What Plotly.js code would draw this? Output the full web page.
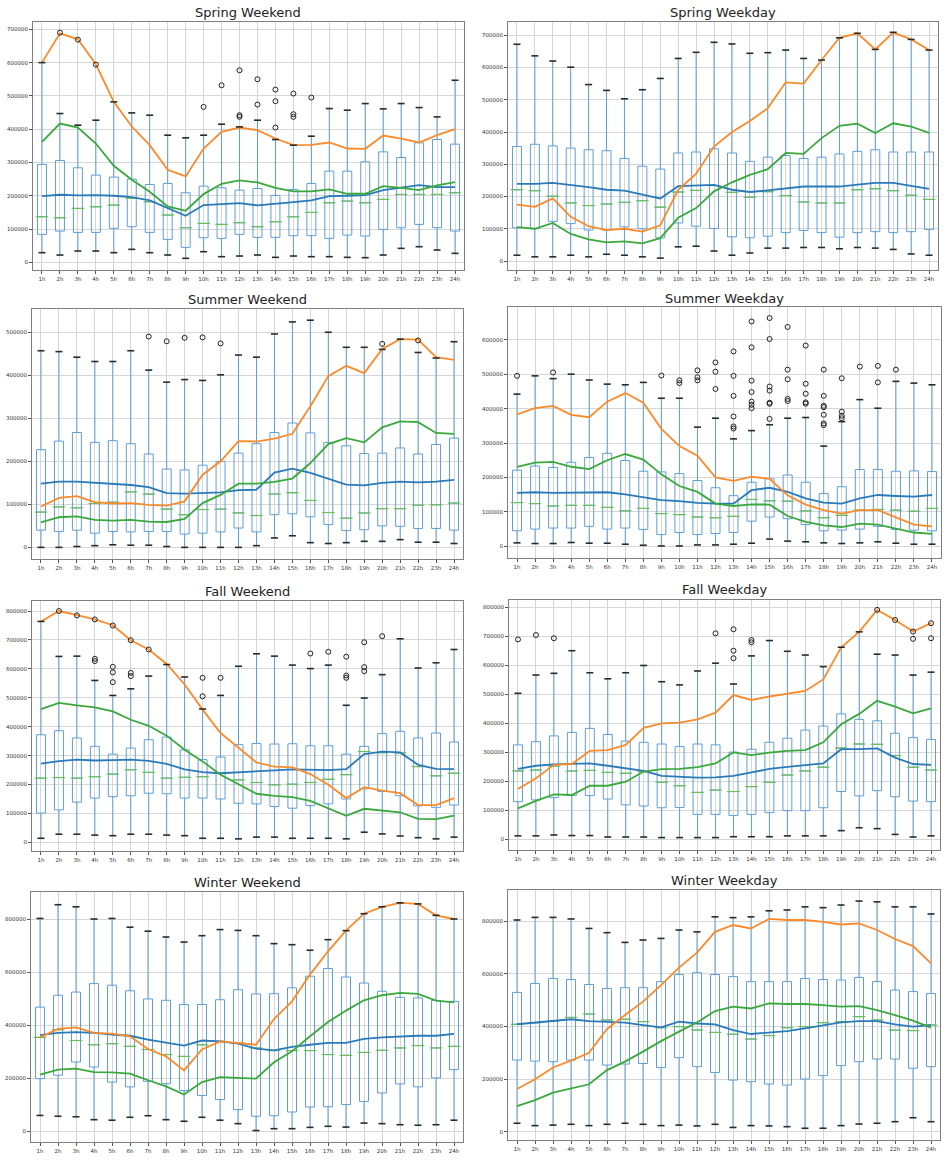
<!DOCTYPE html>
<html><head><meta charset="utf-8">
<script src="https://cdn.plot.ly/plotly-3.0.1.min.js"></script>
<style>html,body{margin:0;padding:0;background:#fff}#chart{width:946px;height:1160px}</style>
</head><body><div id="chart"></div>
<script>
// ---------------- DATA (values in thousands) ----------------
const hours = ['1h','2h','3h','4h','5h','6h','7h','8h','9h','10h','11h','12h','13h','14h','15h','16h','17h','18h','19h','20h','21h','22h','23h','24h'];
const UNIT = 1000;

// Spring Weekend
const springWeekendQ1 = [84,94,90,90,102,107,90,69,45,74,72,84,75,75,80,80,72,82,79,99,104,114,104,94];
const springWeekendMedian = [137,134,162,167,172,192,182,142,104,117,114,119,107,122,137,150,179,184,179,189,204,204,204,209];
const springWeekendQ3 = [294,306,284,262,256,250,234,237,209,229,224,217,222,201,219,237,274,274,302,332,315,359,369,355];
const springWeekendLow = [29,22,34,34,29,39,29,22,12,32,17,19,22,15,19,17,17,15,14,22,42,47,37,27];
const springWeekendHigh = [600,447,412,427,482,449,442,382,374,382,415,407,427,369,352,379,462,457,477,461,477,465,437,547];
const springWeekendOutlierHour = ['2h','3h','4h','10h','11h','12h','12h','12h','13h','13h','14h','14h','14h','15h','15h','15h','16h'];
const springWeekendOutlierValue = [690,669,594,467,532,577,442,437,550,474,519,484,405,507,445,437,495];
const springWeekendBlue = [199,203,201,202,200,196,186,162,140,172,175,178,171,175,181,186,199,200,202,217,225,232,226,226];
const springWeekendOrange = [600,688,670,595,482,408,352,278,258,342,392,405,397,372,352,353,360,342,341,381,372,360,382,400];
const springWeekendGreen = [362,417,405,357,290,248,212,168,155,205,236,246,240,224,213,213,219,206,206,229,224,217,231,241];

// Spring Weekday
const springWeekdayQ1 = [103,100,123,116,96,96,106,100,72,118,108,101,75,72,77,88,95,88,74,88,91,88,91,98];
const springWeekdayMedian = [221,218,201,180,172,177,182,187,167,214,219,234,213,198,215,203,183,180,180,221,224,218,204,191];
const springWeekdayQ3 = [355,362,357,350,345,342,318,294,285,335,338,348,335,309,322,327,318,322,332,340,345,338,338,338];
const springWeekdayLow = [18,13,13,18,13,21,18,13,9,44,46,31,18,25,40,40,42,42,38,42,40,36,22,18];
const springWeekdayHigh = [672,636,620,601,547,529,503,531,566,628,647,678,673,644,646,654,628,623,692,706,656,709,687,654];
const springWeekdayOutlierHour = [];
const springWeekdayOutlierValue = [];
const springWeekdayBlue = [239,239,242,236,229,221,218,206,194,232,234,236,221,214,219,225,231,231,231,237,242,242,232,224];
const springWeekdayOrange = [175,168,194,137,108,96,100,91,111,221,271,355,400,434,474,554,550,623,692,706,656,708,687,654];
const springWeekdayGreen = [105,100,118,84,67,58,61,55,71,134,164,216,244,267,285,335,332,381,419,426,397,427,417,397];

// Summer Weekend
const summerWeekendQ1 = [40,37,40,33,37,36,37,37,31,33,36,45,36,76,78,71,53,39,41,50,49,44,44,40];
const summerWeekendMedian = [82,94,92,102,105,129,124,89,76,88,89,80,74,124,127,109,81,68,80,90,90,98,99,103];
const summerWeekendQ3 = [227,247,267,244,248,241,217,182,180,191,200,219,241,267,289,266,244,236,218,219,231,217,239,254];
const summerWeekendLow = [0,0,2,4,6,5,5,2,0,0,0,0,4,22,27,11,9,11,14,14,18,12,12,9];
const summerWeekendHigh = [457,455,442,432,432,457,412,384,390,388,401,447,442,496,524,528,500,465,465,460,484,453,440,478];
const summerWeekendOutlierHour = ['7h','8h','9h','10h','11h','20h','22h'];
const summerWeekendOutlierValue = [490,479,487,488,474,473,481];
const summerWeekendBlue = [148,153,153,150,147,145,140,126,125,126,128,133,134,174,183,173,159,146,144,150,153,151,153,157];
const summerWeekendOrange = [95,115,119,105,102,103,99,97,107,169,200,247,246,253,264,328,398,422,405,461,484,483,442,436];
const summerWeekendGreen = [58,70,72,64,62,64,60,59,66,103,122,148,148,152,160,196,240,254,244,279,293,291,266,264];

// Summer Weekday
const summerWeekdayQ1 = [45,50,53,53,58,50,53,49,34,40,34,37,40,73,85,80,63,45,47,50,58,49,47,45];
const summerWeekdayMedian = [127,124,117,119,119,113,103,110,95,92,85,83,87,136,132,131,103,83,90,105,107,105,102,110];
const summerWeekdayQ3 = [221,233,229,244,258,270,249,218,216,211,191,170,147,186,196,207,186,153,173,223,223,218,219,217];
const summerWeekdayLow = [10,8,8,11,9,9,6,3,1,1,4,4,6,9,21,15,13,10,8,10,13,9,6,6];
const summerWeekdayHigh = [442,495,487,500,483,471,469,476,430,430,346,372,312,336,353,372,374,291,362,426,401,479,474,469];
const summerWeekdayOutlierHour = ['1h','3h','9h','10h','10h','11h','11h','11h','12h','12h','12h',
  '13h','13h','13h','13h','13h','13h','14h','14h','14h','14h','14h','14h','14h',
  '15h','15h','15h','15h','15h','15h','15h','16h','16h','16h','16h','16h',
  '17h','17h','17h','17h','17h','18h','18h','18h','18h','18h','18h','18h',
  '19h','19h','19h','19h','20h','21h','21h','22h'];
const summerWeekdayOutlierValue = [495,505,496,482,474,511,491,482,534,507,457,
  566,495,437,377,348,342,653,578,481,448,420,411,401,
  663,602,464,452,417,414,370,637,513,485,428,422,
  583,472,443,418,414,513,437,408,404,382,357,352,
  488,391,379,372,522,524,476,513];
const summerWeekdayBlue = [155,157,155,155,157,157,151,142,134,131,126,124,124,163,170,158,139,127,124,139,149,146,144,149];
const summerWeekdayOrange = [383,401,408,382,375,420,445,417,341,291,263,200,190,202,196,148,121,105,95,105,105,85,63,58];
const summerWeekdayGreen = [231,243,245,231,224,250,268,252,209,175,158,124,117,122,121,88,71,61,56,66,63,51,40,36];

// Fall Weekend
const fallWeekendQ1 = [101,112,139,153,158,161,170,168,153,153,150,135,133,124,118,127,133,150,185,176,161,126,121,129];
const fallWeekendMedian = [222,224,222,227,236,251,242,222,225,227,239,216,207,199,201,207,218,234,314,310,309,262,230,239];
const fallWeekendQ3 = [372,386,361,332,305,326,355,364,320,286,295,338,342,340,341,334,334,305,332,376,384,361,378,347];
const fallWeekendLow = [14,28,28,25,23,28,28,25,23,14,14,12,18,18,14,14,14,12,35,29,22,16,12,18];
const fallWeekendHigh = [764,643,644,560,508,531,575,615,572,461,508,609,652,644,613,601,613,474,499,580,704,603,621,667];
const fallWeekendOutlierHour = ['2h','3h','4h','4h','4h','5h','5h','5h','5h','6h','6h','6h','7h','10h','10h','11h','16h','17h','18h','18h','18h','19h','19h','19h','20h'];
const fallWeekendOutlierValue = [800,785,771,635,627,750,607,588,554,699,586,575,667,569,505,569,653,659,642,577,569,692,606,592,713];
const fallWeekendBlue = [272,281,286,283,284,286,282,271,252,243,239,243,245,249,252,250,250,253,305,314,311,268,254,253];
const fallWeekendOrange = [764,800,786,771,751,699,667,617,546,459,378,326,276,262,259,236,199,153,191,179,170,129,129,153];
const fallWeekendGreen = [461,482,474,467,453,424,403,369,320,280,234,202,168,161,156,143,118,92,116,109,104,81,80,92];

// Fall Weekday
const fallWeekdayQ1 = [130,136,144,151,151,139,119,115,109,110,86,86,82,86,92,99,99,109,165,150,168,147,132,130];
const fallWeekdayMedian = [236,239,253,236,238,231,228,234,197,185,162,170,165,182,197,222,236,249,315,329,328,289,249,239];
const fallWeekdayQ3 = [326,337,357,369,383,362,339,335,329,320,329,326,301,311,335,349,377,391,433,414,409,366,351,345];
const fallWeekdayLow = [12,12,15,13,13,8,8,8,6,6,6,6,9,9,9,12,12,12,30,40,37,17,8,12];
const fallWeekdayHigh = [504,567,573,651,575,554,575,600,544,533,581,608,536,633,686,649,636,596,663,716,639,636,567,577];
const fallWeekdayOutlierHour = ['1h','2h','3h','12h','13h','13h','13h','14h','14h','21h','22h','23h','23h','24h','24h'];
const fallWeekdayOutlierValue = [690,705,694,711,725,651,625,688,680,792,757,717,692,746,694];
const fallWeekdayBlue = [243,254,259,260,262,254,245,236,219,216,213,214,219,231,243,250,257,262,311,311,314,282,260,257];
const fallWeekdayOrange = [174,211,257,260,305,308,326,385,400,403,414,437,498,481,493,502,512,552,663,716,792,757,717,746];
const fallWeekdayGreen = [107,133,155,153,185,185,199,234,242,243,249,262,300,291,299,305,308,335,397,433,478,458,435,452];

// Winter Weekend
const winterWeekendQ1 = [199,212,262,243,186,168,189,180,154,135,120,82,57,59,73,92,93,101,113,145,179,168,202,233];
const winterWeekendMedian = [355,384,343,327,331,321,309,290,283,327,340,334,315,305,305,305,290,287,298,306,315,324,315,321];
const winterWeekendQ3 = [469,514,526,558,552,531,500,495,479,479,497,535,519,520,542,586,615,583,560,529,506,504,494,491];
const winterWeekendLow = [60,57,55,44,42,53,59,44,38,53,42,29,3,10,10,15,19,16,31,29,25,23,25,42];
const winterWeekendHigh = [804,856,848,802,804,771,756,734,715,739,762,759,739,709,705,684,724,758,822,848,863,859,816,802];
const winterWeekendOutlierHour = [];
const winterWeekendOutlierValue = [];
const winterWeekendBlue = [363,372,375,372,365,361,346,334,324,343,340,331,312,306,319,327,334,334,349,355,359,361,361,368];
const winterWeekendOrange = [355,387,393,372,369,359,311,283,230,309,340,334,327,424,491,592,680,758,822,848,863,859,816,802];
const winterWeekendGreen = [214,233,237,224,223,218,193,170,139,186,205,202,199,261,302,359,413,456,495,514,523,519,494,487];

// Winter Weekday
const winterWeekdayQ1 = [272,268,266,272,272,253,257,259,244,281,247,225,196,190,181,177,200,213,251,266,276,276,241,247];
const winterWeekdayMedian = [408,414,420,434,447,424,427,418,395,399,386,377,370,352,365,395,399,414,418,437,424,386,384,405];
const winterWeekdayQ3 = [529,563,582,578,559,544,547,547,570,597,604,597,589,570,570,570,582,578,576,586,570,538,532,525];
const winterWeekdayLow = [32,23,25,28,23,28,32,28,23,25,22,28,16,23,22,19,13,13,23,29,32,38,53,38];
const winterWeekdayHigh = [804,814,814,808,772,756,719,728,734,766,759,816,813,816,839,842,854,851,861,876,873,854,854,827];
const winterWeekdayOutlierHour = [];
const winterWeekdayOutlierValue = [];
const winterWeekdayBlue = [408,415,422,427,420,418,414,405,396,418,411,408,386,371,376,382,392,403,415,420,420,408,399,405];
const winterWeekdayOrange = [162,199,244,270,300,390,443,494,557,623,680,759,785,772,808,804,804,797,787,791,766,732,705,639];
const winterWeekdayGreen = [97,120,148,165,180,234,266,304,344,380,415,458,475,468,487,485,485,481,475,477,462,443,422,395];

const panelTitles = ['Spring Weekend','Spring Weekday','Summer Weekend','Summer Weekday','Fall Weekend','Fall Weekday','Winter Weekend','Winter Weekday'];

// ---------------- BUILD ----------------
const panelData = [
  [springWeekendQ1,springWeekendMedian,springWeekendQ3,springWeekendLow,springWeekendHigh,springWeekendOutlierHour,springWeekendOutlierValue,springWeekendBlue,springWeekendOrange,springWeekendGreen],
  [springWeekdayQ1,springWeekdayMedian,springWeekdayQ3,springWeekdayLow,springWeekdayHigh,springWeekdayOutlierHour,springWeekdayOutlierValue,springWeekdayBlue,springWeekdayOrange,springWeekdayGreen],
  [summerWeekendQ1,summerWeekendMedian,summerWeekendQ3,summerWeekendLow,summerWeekendHigh,summerWeekendOutlierHour,summerWeekendOutlierValue,summerWeekendBlue,summerWeekendOrange,summerWeekendGreen],
  [summerWeekdayQ1,summerWeekdayMedian,summerWeekdayQ3,summerWeekdayLow,summerWeekdayHigh,summerWeekdayOutlierHour,summerWeekdayOutlierValue,summerWeekdayBlue,summerWeekdayOrange,summerWeekdayGreen],
  [fallWeekendQ1,fallWeekendMedian,fallWeekendQ3,fallWeekendLow,fallWeekendHigh,fallWeekendOutlierHour,fallWeekendOutlierValue,fallWeekendBlue,fallWeekendOrange,fallWeekendGreen],
  [fallWeekdayQ1,fallWeekdayMedian,fallWeekdayQ3,fallWeekdayLow,fallWeekdayHigh,fallWeekdayOutlierHour,fallWeekdayOutlierValue,fallWeekdayBlue,fallWeekdayOrange,fallWeekdayGreen],
  [winterWeekendQ1,winterWeekendMedian,winterWeekendQ3,winterWeekendLow,winterWeekendHigh,winterWeekendOutlierHour,winterWeekendOutlierValue,winterWeekendBlue,winterWeekendOrange,winterWeekendGreen],
  [winterWeekdayQ1,winterWeekdayMedian,winterWeekdayQ3,winterWeekdayLow,winterWeekdayHigh,winterWeekdayOutlierHour,winterWeekdayOutlierValue,winterWeekdayBlue,winterWeekdayOrange,winterWeekdayGreen]
];

// plot-area pixel boxes [x0, x1, y0, y1], y ranges, y tick steps
const W = 946, H = 1160;
const boxesPx = [[33,464,22,270],[508,938,22,270],[32,463,309,559],[508,941,307,558],[32,463,601,851],[509,940,600,850],[31,463,892,1142],[508,940,890,1140]];
const yRanges = [[-23000,722000],[-27800,741000],[-27000,554000],[-34000,695000],[-30000,834700],[-36800,826000],[-40300,904000],[-31600,918000]];
const yDticks = [100000,100000,100000,100000,100000,100000,200000,200000];
const titleY = [12,12,300,298,591,589,882,880];

const C_BLUE = '#2a7ab9', C_ORANGE = '#fb8a2a', C_GREEN = '#3aa83a';
const scale = a => a.map(v => v * UNIT);

const traces = [];
const layout = {
  width: W, height: H, margin: {l:0,r:0,t:0,b:0},
  paper_bgcolor: '#fff', plot_bgcolor: '#fff',
  showlegend: false, annotations: [],
  font: {family: 'DejaVu Sans', color: '#333'}
};

panelData.forEach((d, i) => {
  const [q1, med, q3, lo, hi, oh, ov, blue, orange, green] = d;
  const s = i === 0 ? '' : String(i + 1);
  const xa = 'x' + s, ya = 'y' + s;
  traces.push({type:'box', x: hours, q1: scale(q1), median: scale(med), q3: scale(q3),
    lowerfence: scale(lo), upperfence: scale(hi), width: 0.5, whiskerwidth: 0,
    fillcolor: 'rgba(0,0,0,0)', line: {color: '#5d9fd6', width: 1}, boxpoints: false,
    xaxis: xa, yaxis: ya, hoverinfo: 'skip'});
  traces.push({type:'scatter', mode:'markers', x: hours, y: scale(med), xaxis: xa, yaxis: ya,
    marker: {symbol:'line-ew', size: 9, color: C_GREEN, line: {color: '#6cbf5a', width: 1.2}}, hoverinfo:'skip'});
  [[blue, C_BLUE],[orange, C_ORANGE],[green, C_GREEN]].forEach(([arr, c]) => {
    traces.push({type:'scatter', mode:'lines', x: hours, y: scale(arr), xaxis: xa, yaxis: ya,
      line: {color: c, width: 1.8}, hoverinfo:'skip'});
  });
  traces.push({type:'scatter', mode:'markers', x: hours.concat(hours), y: scale(lo.concat(hi)), xaxis: xa, yaxis: ya,
    marker: {symbol:'line-ew', size: 5, color:'#222', line: {color: '#2a2a2a', width: 1.6}}, hoverinfo:'skip'});
  if (oh.length) {
    traces.push({type:'scatter', mode:'markers', x: oh, y: scale(ov), xaxis: xa, yaxis: ya,
      marker: {symbol:'circle-open', size: 5, color:'#222', line: {color:'#2a2a2a', width: 1}}, hoverinfo:'skip'});
  }
  const [x0, x1, y0, y1] = boxesPx[i];
  const common = {showgrid: true, gridcolor: '#d6d6d6', gridwidth: 1, zeroline: false,
    showline: true, mirror: true, linecolor: '#808080', linewidth: 1,
    ticks: 'outside', ticklen: 3, tickcolor: '#555', tickwidth: 1,
    tickfont: {size: 5.5, family: 'DejaVu Sans', color: '#333'}, fixedrange: true};
  layout['xaxis' + s] = Object.assign({}, common, {domain: [x0 / W, x1 / W], anchor: ya,
    type: 'category', categoryorder: 'array', categoryarray: hours, range: [-0.5, 23.5], tickangle: 0});
  layout['yaxis' + s] = Object.assign({}, common, {domain: [1 - y1 / H, 1 - y0 / H], anchor: xa,
    range: yRanges[i], dtick: yDticks[i], tick0: 0, tickformat: 'd'});
  layout.annotations.push({text: panelTitles[i], xref: 'paper', yref: 'paper',
    x: ((x0 + x1) / 2) / W, y: 1 - titleY[i] / H, xanchor: 'center', yanchor: 'middle',
    showarrow: false, font: {size: 13, family: 'DejaVu Sans', color: '#222'}});
});

Plotly.newPlot('chart', traces, layout, {staticPlot: true, displayModeBar: false});
</script>
</body></html>
